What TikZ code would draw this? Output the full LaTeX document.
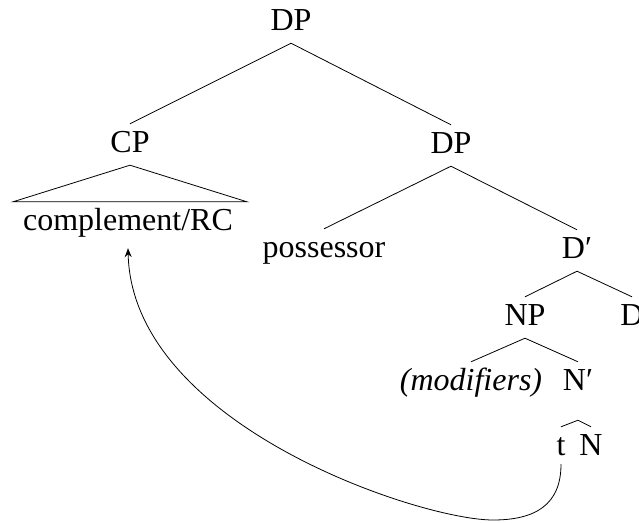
\documentclass[tikz,border=0pt]{standalone}
\usepackage{fontspec}
\setmainfont{Liberation Serif}
\usetikzlibrary{calc,arrows.meta}
\begin{document}
\begin{tikzpicture}[x=1pt,y=-1pt,
  lab/.style={anchor=base,inner sep=0pt,text height=28pt,text depth=13pt,
    font=\fontsize{32}{38}\selectfont},
  branch/.style={line width=0.8pt},
  move/.style={line width=0.8pt,-{Stealth[length=9pt,width=7pt,inset=3pt]}}]
\useasboundingbox (0,0) rectangle (639,522);
\node[lab] (dp1) at (291,30) {DP};
\node[lab] (cp) at (130,152) {CP};
\node[lab] (dp2) at (451,153) {DP};
\node[lab] (compl) at (128,230) {complement/RC};
\node[lab] (poss) at (324,257) {possessor};
\node[lab] (dbar) at (577,258) {D′};
\node[lab] (np) at (525,325) {NP};
\node[lab] (d) at (632,325) {D};
\node[lab] (mod) at (471,390) {\itshape (modifiers)};
\node[lab,text depth=30pt] (nbar) at (578,390) {N′};
\node[lab] (t) at (561,455) {t};
\node[lab] (n) at (591,455) {N};
\draw[branch] (dp1.south) -- (cp.north);
\draw[branch] (dp1.south) -- (dp2.north);
\draw[branch] (cp.south) -- ($(cp.south |- compl.north)+(-117,0)$)
  -- ($(cp.south |- compl.north)+(117,0)$) -- cycle;
\draw[branch] (dp2.south) -- (poss.north);
\draw[branch] (dp2.south) -- (dbar.north);
\draw[branch] (dbar.south) -- (np.north);
\draw[branch] (dbar.south) -- (d.north);
\draw[branch] (np.south) -- (mod.north);
\draw[branch] (np.south) -- (nbar.north);
\draw[branch] (nbar.south) -- (t.north);
\draw[branch] (nbar.south) -- (n.north);
\coordinate (bend) at (493,520);
\draw[move] ([yshift=4pt]t.south) .. controls (561,505) and (535,520) .. (bend)
  .. controls (420,520) and (132,425) .. ([yshift=-5pt]compl.south);
\end{tikzpicture}
\end{document}
